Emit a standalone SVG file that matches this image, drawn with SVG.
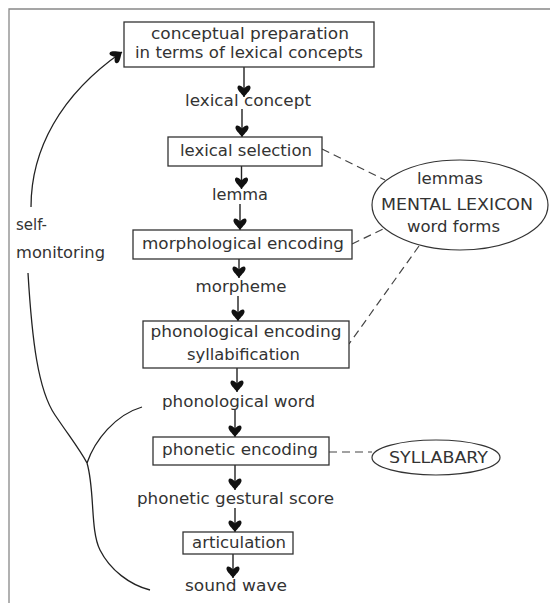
<svg xmlns="http://www.w3.org/2000/svg" width="550" height="605" viewBox="0 0 550 605">
<defs>
<marker id="ah" markerUnits="userSpaceOnUse" markerWidth="14" markerHeight="14" refX="12" refY="7" orient="auto" overflow="visible">
<path d="M12,7 C8,10 5,14 2,13.5 C-0.5,13 0,10 3.5,7 C0,4 -0.5,1 2,0.5 C5,0 8,4 12,7 Z" fill="#111"/>
</marker>
<style>
text{font-family:"DejaVu Sans","Liberation Sans",sans-serif;font-size:15px;fill:#333;text-anchor:middle}
.st{text-anchor:start}
.box{fill:#fff;stroke:#333;stroke-width:1.3}
.ell{fill:#fff;stroke:#333;stroke-width:1.2}
.arr{stroke:#222;stroke-width:1.4;fill:none;marker-end:url(#ah)}
.dash{stroke:#444;stroke-width:1.2;stroke-dasharray:8,5;fill:none}
.hand{stroke:#222;stroke-width:1.3;fill:none}
.frame{stroke:#888;stroke-width:1.3;fill:none}
</style>
</defs>
<rect width="550" height="605" fill="#fff"/>
<path class="frame" d="M9,603 L9,9 L550,9"/>

<g id="connectors">
<line class="arr" x1="244" y1="67" x2="244" y2="97"/>
<line class="arr" x1="242" y1="109" x2="242" y2="137"/>
<line class="arr" x1="241.5" y1="166" x2="241.5" y2="189"/>
<line class="arr" x1="240" y1="204" x2="240" y2="230"/>
<line class="arr" x1="239" y1="259" x2="239" y2="278"/>
<line class="arr" x1="238" y1="296" x2="238" y2="321"/>
<line class="arr" x1="237" y1="368" x2="237" y2="392"/>
<line class="arr" x1="235" y1="410" x2="235" y2="437"/>
<line class="arr" x1="235" y1="465" x2="235" y2="490"/>
<line class="arr" x1="235" y1="508" x2="235" y2="532"/>
<line class="arr" x1="233" y1="554" x2="233" y2="578"/>
<line class="dash" x1="322" y1="149" x2="385" y2="180"/>
<line class="dash" x1="352" y1="244" x2="383" y2="229"/>
<line class="dash" x1="419" y1="246" x2="349" y2="344"/>
<line class="dash" x1="329" y1="452" x2="372" y2="452"/>
<path class="hand" d="M31,207 C31,150 60,95 122,52" style="marker-end:url(#ah)"/>
<path class="hand" d="M28,273 C32,340 38,390 55,415 S80,450 87,463"/>
<path class="hand" d="M87,463 C95,490 90,530 100,550 S130,585 150,590"/>
<path class="hand" d="M87,463 C95,440 115,415 142,407"/>
</g>

<g id="n1"><rect class="box" x="124" y="22" width="250" height="45"/>
<text x="250" y="39" textLength="198" lengthAdjust="spacingAndGlyphs">conceptual preparation</text>
<text x="249" y="58" textLength="228" lengthAdjust="spacingAndGlyphs">in terms of lexical concepts</text></g>
<g id="l1"><text x="248" y="106" textLength="126" lengthAdjust="spacingAndGlyphs">lexical concept</text></g>
<g id="n2"><rect class="box" x="168" y="137" width="154" height="29"/>
<text x="246" y="156" textLength="132" lengthAdjust="spacingAndGlyphs">lexical selection</text></g>
<g id="l2"><text x="240" y="200" textLength="56" lengthAdjust="spacingAndGlyphs">lemma</text></g>
<g id="n3"><rect class="box" x="133" y="230" width="219" height="29"/>
<text x="243" y="249" textLength="202" lengthAdjust="spacingAndGlyphs">morphological encoding</text></g>
<g id="l3"><text x="241" y="292" textLength="91" lengthAdjust="spacingAndGlyphs">morpheme</text></g>
<g id="n4"><rect class="box" x="143" y="321" width="206" height="47"/>
<text x="246" y="337" textLength="191" lengthAdjust="spacingAndGlyphs">phonological encoding</text>
<text x="243.5" y="360" textLength="113" lengthAdjust="spacingAndGlyphs">syllabification</text></g>
<g id="l4"><text x="238.5" y="407" textLength="153" lengthAdjust="spacingAndGlyphs">phonological word</text></g>
<g id="n5"><rect class="box" x="153" y="437" width="176" height="28"/>
<text x="240" y="455" textLength="156" lengthAdjust="spacingAndGlyphs">phonetic encoding</text></g>
<g id="l5"><text x="235.5" y="504" textLength="197" lengthAdjust="spacingAndGlyphs">phonetic gestural score</text></g>
<g id="n6"><rect class="box" x="183" y="532" width="110" height="22"/>
<text x="239" y="548" textLength="94" lengthAdjust="spacingAndGlyphs">articulation</text></g>
<g id="l6"><text x="236" y="591" textLength="102" lengthAdjust="spacingAndGlyphs">sound wave</text></g>
<g id="lexicon"><ellipse class="ell" cx="460" cy="205" rx="88" ry="45"/>
<text x="450" y="184" textLength="66" lengthAdjust="spacingAndGlyphs">lemmas</text>
<text x="457" y="210" textLength="152" lengthAdjust="spacingAndGlyphs">MENTAL LEXICON</text>
<text x="453.5" y="232" textLength="93" lengthAdjust="spacingAndGlyphs">word forms</text></g>
<g id="syllabary"><ellipse class="ell" cx="436" cy="457.5" rx="64" ry="17.5"/>
<text x="438.5" y="463" textLength="99" lengthAdjust="spacingAndGlyphs">SYLLABARY</text></g>
<g id="selfmon"><text class="st" x="16" y="230" textLength="31" lengthAdjust="spacingAndGlyphs">self-</text>
<text class="st" x="16" y="258" textLength="89" lengthAdjust="spacingAndGlyphs">monitoring</text></g>
</svg>
